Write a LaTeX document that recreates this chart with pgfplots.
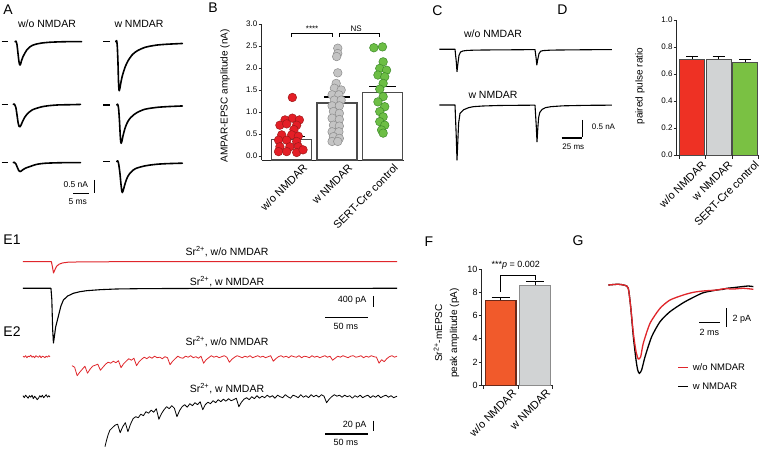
\documentclass[border=0pt]{standalone}
\usepackage{fontspec}
\setmainfont{Liberation Sans}
\usepackage{pgfplots}
\pgfplotsset{compat=1.18}
\definecolor{bred}{HTML}{E41E26}
\definecolor{bredd}{HTML}{9E1A1A}
\definecolor{bgray}{HTML}{C4C4C4}
\definecolor{bgrayd}{HTML}{8C8C8C}
\definecolor{bgreen}{HTML}{6DBE45}
\definecolor{bgreend}{HTML}{3D8B2A}
\definecolor{dred}{HTML}{EE3124}
\definecolor{dgray}{HTML}{D1D3D4}
\definecolor{dgreen}{HTML}{7AC143}
\definecolor{fred}{HTML}{F15A2B}
\definecolor{fredd}{HTML}{6B2A1A}
\definecolor{tred}{HTML}{E0262B}
\newcommand\fLet{\fontsize{14}{16}\selectfont}
\newcommand\fTit{\fontsize{10.5}{12}\selectfont}
\newcommand\fSc{\fontsize{8.5}{10}\selectfont}
\pgfplotsset{
  /pgf/number format/assume math mode=true,
  trace/.style={scale only axis, hide axis, clip=false, anchor=south west},
  barax/.style={scale only axis, clip=false, anchor=south west,
    axis x line*=bottom, axis y line*=left, tick align=outside,
    axis line style={line width=0.7pt, black!85},
    ytick style={line width=0.7pt, black!85}, major tick length=3pt,
    xtick style={draw=none},
    yticklabel style={font=\fontsize{8}{9}\selectfont, inner sep=1pt},
    xticklabel style={font=\fontsize{11}{12}\selectfont, rotate=45, anchor=north east, inner sep=1pt, xshift=8.5pt, yshift=-6.5pt},
  },
  atr/.style={black, line width=1.6pt, smooth, tension=0.35, line join=round, line cap=round},
  sbar/.style={black, line width=1.3pt},
}
\begin{document}
\begin{tikzpicture}
\path[use as bounding box] (0,0) rectangle (760pt,449pt);
\fill[white] (0,0) rectangle (760pt,449pt);

% ---------------- A ----------------
\begin{axis}[trace, at={(0pt,244pt)}, width=185pt, height=175pt,
  xmin=0, xmax=57.8125, ymin=-6.4291, ymax=0.4606]
\addplot[atr, x filter/.expression={x+4.6875}] coordinates {(0,0) (0.3,0.02) (0.6,-0.1) (0.9,-0.42) (1.2,-0.75) (1.4,-0.88) (1.56,-0.917) (1.75,-0.88) (2.0,-0.76) (2.5,-0.59) (3.0,-0.47) (3.66,-0.33) (4.5,-0.22) (5.5,-0.14) (6.8,-0.09) (8.5,-0.05) (10.5,-0.025) (13,-0.01) (16,0) (20.8,0)};
\addplot[atr, x filter/.expression={x+4.156}, y filter/.expression={y-2.47}] coordinates {(0,0) (0.3,0.02) (0.8,-0.12) (1.2,-0.45) (1.5,-0.72) (1.8,-0.86) (2.1,-0.88) (2.4,-0.82) (2.9,-0.67) (3.5,-0.52) (4.2,-0.40) (5.0,-0.30) (6.0,-0.21) (7.3,-0.15) (9,-0.09) (11,-0.05) (14,-0.02) (18,-0.01) (21,0)};
\addplot[atr, x filter/.expression={x+4.156}, y filter/.expression={y-4.76}] coordinates {(0,0) (0.3,0.015) (0.8,-0.05) (1.3,-0.2) (1.7,-0.31) (2.1,-0.354) (2.5,-0.33) (3.0,-0.28) (3.8,-0.22) (4.5,-0.185) (5.2,-0.157) (6.2,-0.11) (7.3,-0.07) (8.5,-0.045) (10,-0.025) (13,-0.01) (17,0) (21,0)};
\addplot[atr, x filter/.expression={x+36.16}] coordinates {(0,0) (0.3,0.04) (0.5,-0.2) (0.7,-0.8) (0.85,-1.5) (1.0,-1.88) (1.1,-1.93) (1.3,-1.84) (1.6,-1.62) (2.0,-1.38) (2.5,-1.16) (3.0,-0.98) (3.5,-0.84) (4.0,-0.72) (5.0,-0.54) (6.0,-0.42) (7.0,-0.34) (8.0,-0.28) (9.2,-0.22) (11,-0.17) (13,-0.13) (16,-0.10) (20.8,-0.07)};
\addplot[atr, x filter/.expression={x+36.47}, y filter/.expression={y-2.49}] coordinates {(0,0) (0.3,0.03) (0.6,-0.15) (0.9,-0.7) (1.1,-1.2) (1.25,-1.45) (1.4,-1.51) (1.6,-1.44) (2.0,-1.20) (2.5,-0.96) (3.0,-0.78) (3.5,-0.65) (4.0,-0.55) (4.7,-0.46) (5.5,-0.37) (6.5,-0.29) (7.5,-0.23) (8.8,-0.17) (10.5,-0.13) (13,-0.09) (16,-0.065) (20.5,-0.04)};
\addplot[atr, x filter/.expression={x+36.47}, y filter/.expression={y-4.72}] coordinates {(0,0) (0.3,0.03) (0.6,-0.08) (1.0,-0.45) (1.3,-0.85) (1.55,-1.12) (1.75,-1.22) (2.0,-1.15) (2.5,-0.92) (3.0,-0.72) (3.5,-0.58) (4.2,-0.45) (5.2,-0.33) (6.2,-0.26) (7.5,-0.21) (8.8,-0.17) (10.5,-0.135) (13,-0.10) (16,-0.08) (20.5,-0.063)};
\addplot[sbar] coordinates {(0.53,0) (2.6,0)};
\addplot[sbar] coordinates {(0.53,-2.47) (2.6,-2.47)};
\addplot[sbar] coordinates {(0.53,-4.76) (2.6,-4.76)};
\addplot[sbar] coordinates {(32.2,0) (34.4,0)};
\addplot[sbar] coordinates {(32.2,-2.49) (34.4,-2.49)};
\addplot[sbar] coordinates {(32.2,-4.72) (34.4,-4.72)};
\addplot[sbar] coordinates {(29.47,-5.445) (29.47,-5.945)};
\addplot[sbar] coordinates {(22.9,-5.965) (27.9,-5.965)};
\node[anchor=east, inner sep=0pt, font=\fSc] at (axis cs:27.6,-5.64) {0.5 nA};
\node[inner sep=0pt, font=\fSc] at (axis cs:24.3,-6.30) {5 ms};
\end{axis}
\node[font=\fLet] at (8pt,439pt) {A};
\node[font=\fTit] at (47pt,425pt) {w/o NMDAR};
\node[font=\fTit] at (139pt,425pt) {w NMDAR};

% ---------------- B ----------------
\begin{axis}[barax, at={(261.5pt,289pt)}, width=142.5pt, height=136pt,
  xmin=-0.665, xmax=2.474, ymin=-0.0909, ymax=3.0,
  ytick={0,0.5,1,1.5,2,2.5,3},
  yticklabel style={/pgf/number format/fixed, /pgf/number format/fixed zerofill, /pgf/number format/precision=1},
  xtick={0,1,2}, xticklabels={w/o NMDAR, w NMDAR, SERT-Cre control}]
\addplot[draw=black!70, line width=1.4pt, fill=white] coordinates {(-0.44,-0.0909) (-0.44,0.38) (0.44,0.38) (0.44,-0.0909)} -- cycle;
\addplot[draw=black!70, line width=1.4pt, fill=white] coordinates {(0.56,-0.0909) (0.56,1.20) (1.44,1.20) (1.44,-0.0909)} -- cycle;
\addplot[draw=black!70, line width=1.4pt, fill=white] coordinates {(1.56,-0.0909) (1.56,1.44) (2.44,1.44) (2.44,-0.0909)} -- cycle;
\addplot[only marks, mark=*, mark size=4.3pt, mark options={fill=bred, draw=bredd, line width=0.5pt}] coordinates {(0.015,1.33) (-0.147,0.82) (0.015,0.86) (0.17,0.82) (-0.26,0.70) (-0.11,0.73) (0.11,0.70) (0.05,0.60) (-0.22,0.48) (0,0.48) (0.147,0.45) (-0.29,0.36) (-0.11,0.36) (0.11,0.33) (-0.26,0.21) (-0.04,0.21) (0.147,0.21) (-0.29,0.10) (-0.11,0.10) (0.11,0.08) (0.25,0.14)};
\addplot[only marks, mark=*, mark size=4.3pt, mark options={fill=bgray, draw=bgrayd, line width=0.5pt}] coordinates {(1.015,2.45) (1.015,2.33) (0.99,2.26) (1.015,1.89) (0.98,1.65) (0.94,1.54) (1.09,1.50) (0.89,1.39) (1.04,1.39) (0.94,1.27) (1.09,1.27) (0.89,1.14) (1.05,1.14) (0.92,1.01) (1.05,0.97) (0.89,0.86) (1.05,0.83) (0.92,0.70) (1.05,0.68) (0.89,0.55) (1.04,0.55) (0.92,0.44) (1.05,0.40) (0.89,0.33) (1.015,0.33)};
\addplot[only marks, mark=*, mark size=4.3pt, mark options={fill=bgreen, draw=bgreend, line width=0.5pt}] coordinates {(1.81,2.46) (2.0,2.48) (2.015,2.14) (1.94,1.99) (2.09,1.95) (1.90,1.84) (2.05,1.80) (2.015,1.65) (1.94,1.52) (2.015,1.35) (1.90,1.23) (2.05,1.12) (1.94,1.01) (2.015,0.89) (1.94,0.78) (2.05,0.70) (1.98,0.59) (2.015,0.52)};
\addplot[black, line width=1.2pt] coordinates {(0,0.38) (0,0.44)};
\addplot[black, line width=1.2pt] coordinates {(-0.29,0.44) (0.29,0.44)};
\addplot[black, line width=1.2pt] coordinates {(1,1.20) (1,1.34)};
\addplot[black, line width=1.2pt] coordinates {(0.71,1.34) (1.29,1.34)};
\addplot[black, line width=1.2pt] coordinates {(2,1.44) (2,1.58)};
\addplot[black, line width=1.2pt] coordinates {(1.71,1.58) (2.29,1.58)};
\addplot[black, line width=0.7pt] coordinates {(0,2.70) (0,2.79) (0.9,2.79) (0.9,2.70)};
\addplot[black, line width=0.7pt] coordinates {(1.05,2.70) (1.05,2.79) (1.94,2.79) (1.94,2.70)};
\node[anchor=base, inner sep=0pt, font=\fontsize{8}{9}\selectfont] at (axis cs:0.45,2.83) {****};
\node[anchor=base, inner sep=0pt, font=\fontsize{8}{9}\selectfont] at (axis cs:1.42,2.83) {NS};
\end{axis}
\node[font=\fLet] at (213pt,441pt) {B};
\node[rotate=90, font=\fontsize{10}{12}\selectfont] at (225pt,353pt) {AMPAR-EPSC amplitude (nA)};

% ---------------- C ----------------
\begin{axis}[trace, at={(435pt,279pt)}, width=180pt, height=130pt,
  xmin=0, xmax=225, ymin=-3.614, ymax=0.278]
\addplot[black, line width=1.1pt, line join=round] coordinates {(5.4,0) (25,0) (26.5,-0.35) (27.5,-0.67) (28.5,-0.45) (30,-0.18) (32,-0.08) (35,-0.05) (40,-0.035) (50,-0.025) (70,-0.02) (100,-0.015) (125,-0.01) (126.3,-0.25) (127.3,-0.47) (128.3,-0.32) (130,-0.13) (132,-0.06) (135,-0.04) (145,-0.025) (170,-0.018) (200,-0.012) (221,-0.01)};
\addplot[black, line width=1.1pt, line join=round, y filter/.expression={y-1.668}] coordinates {(5.4,0) (25,0) (26.5,-0.9) (27.5,-1.65) (28.5,-1.1) (29.5,-0.55) (31.25,-0.25) (36,-0.14) (42,-0.08) (48,-0.05) (60,-0.03) (80,-0.015) (100,-0.01) (125,-0.005) (126.5,-0.6) (127.5,-1.1) (128.5,-0.7) (129.5,-0.38) (131,-0.22) (134,-0.13) (138,-0.08) (145,-0.05) (160,-0.025) (190,-0.01) (221,-0.005)};
\addplot[sbar] coordinates {(184.6,-2.117) (184.6,-2.617)};
\addplot[sbar] coordinates {(158.4,-2.656) (183.4,-2.656)};
\node[anchor=west, inner sep=0pt, font=\fontsize{8}{9}\selectfont] at (axis cs:195.9,-2.32) {0.5 nA};
\node[inner sep=0pt, font=\fontsize{8}{9}\selectfont] at (axis cs:172.9,-2.92) {25 ms};
\end{axis}
\node[font=\fLet] at (437.5pt,438pt) {C};
\node[font=\fTit] at (493pt,415.5pt) {w/o NMDAR};
\node[font=\fTit] at (493pt,354.5pt) {w NMDAR};

% ---------------- D ----------------
\begin{axis}[barax, at={(676.7pt,294pt)}, width=81.3pt, height=135pt,
  xmin=-0.585, xmax=2.483, ymin=0, ymax=1,
  ytick={0,0.2,0.4,0.6,0.8,1},
  yticklabel style={/pgf/number format/fixed, /pgf/number format/fixed zerofill, /pgf/number format/precision=1},
  xticklabel style={xshift=-2.5pt},
  xtick={0,1,2}, xticklabels={w/o NMDAR, w NMDAR, SERT-Cre control}]
\addplot[ybar, bar width=25pt, bar shift=0pt, fill=dred, draw=black!70, line width=0.6pt] coordinates {(0,0.71)};
\addplot[ybar, bar width=25pt, bar shift=0pt, fill=dgray, draw=black!70, line width=0.6pt] coordinates {(1,0.71)};
\addplot[ybar, bar width=25pt, bar shift=0pt, fill=dgreen, draw=black!70, line width=0.6pt] coordinates {(2,0.69)};
\addplot[black, line width=0.8pt] coordinates {(0,0.71) (0,0.73)};
\addplot[black, line width=0.8pt] coordinates {(-0.23,0.73) (0.23,0.73)};
\addplot[black, line width=0.8pt] coordinates {(1,0.71) (1,0.73)};
\addplot[black, line width=0.8pt] coordinates {(0.77,0.73) (1.23,0.73)};
\addplot[black, line width=0.8pt] coordinates {(2,0.69) (2,0.71)};
\addplot[black, line width=0.8pt] coordinates {(1.77,0.71) (2.23,0.71)};
\addplot[black!85, line width=0.7pt] coordinates {(-0.5,0) (-0.5,-0.03)};
\addplot[black!85, line width=0.7pt] coordinates {(0.5,0) (0.5,-0.03)};
\addplot[black!85, line width=0.7pt] coordinates {(1.5,0) (1.5,-0.03)};
\addplot[black!85, line width=0.7pt] coordinates {(2.5,0) (2.5,-0.03)};
\end{axis}
\node[font=\fLet] at (562.5pt,439pt) {D};
\node[rotate=90, font=\fontsize{10}{12}\selectfont] at (640pt,363pt) {paired pulse ratio};

% ---------------- E1 ----------------
\begin{axis}[trace, at={(20pt,104pt)}, width=380pt, height=90pt,
  xmin=-3.488, xmax=438.37, ymin=-3029, ymax=243.6]
\addplot[tred, line width=1pt, line join=round] coordinates {(0,0) (33,0) (34,-150) (35.5,-411) (37,-300) (39,-170) (42,-90) (46,-45) (52,-20) (65,-8) (90,-3) (120,0) (434.9,0)};
\addplot[black, line width=1.1pt, line join=round, y filter/.expression={y-967}] coordinates {(0,0) (32.5,0) (33.5,-400) (34.5,-1500) (35.4,-1989) (36.5,-1750) (38,-1400) (41,-1033) (44,-650) (47,-425) (52,-280) (58.5,-182) (66,-125) (74,-87) (90,-50) (109,-25) (140,-12) (200,-5) (300,-2) (434.9,0)};
\addplot[sbar] coordinates {(407.3,-1247) (407.3,-1647)};
\addplot[sbar] coordinates {(351.2,-2022) (401.2,-2022)};
\node[anchor=east, inner sep=0pt, font=\fontsize{9}{10}\selectfont] at (axis cs:399.6,-1393) {400 pA};
\node[inner sep=0pt, font=\fontsize{9}{10}\selectfont] at (axis cs:375.4,-2338) {50 ms};
\end{axis}
\node[font=\fLet] at (12pt,209pt) {E1};
\node[font=\fTit] at (227pt,197pt) {Sr\textsuperscript{2+}, w/o NMDAR};
\node[font=\fTit] at (227pt,167.3pt) {Sr\textsuperscript{2+}, w NMDAR};

% ---------------- E2 ----------------
\begin{axis}[trace, at={(20pt,0pt)}, width=380pt, height=104pt,
  xmin=-3.488, xmax=438.37, ymin=-184.6, ymax=23.4]
\addplot[tred, line width=0.8pt, line join=round] coordinates {(0,1) (1.5,-1) (3,2) (4.5,-2) (6,1) (7.5,0) (9,3) (10.5,-1) (12,1) (13.5,-2) (15,2) (16.5,0) (18,-1) (19.5,2) (21,-2) (22.5,1) (24,0) (25.5,-2) (27,1) (28.5,-1) (30,2) (31.4,0)};
\addplot[tred, line width=0.8pt, line join=round] coordinates {(57,-18) (60,-21) (63,-38) (66,-31) (69,-25) (72,-19) (75,-33) (78,-25) (81,-19) (84,-17) (87,-15) (90,-27) (93,-21) (96,-15) (99,-11) (102,-13) (105,-9) (108,-12) (111,-8) (114,-22) (117,-14) (120,-9) (123,-4) (126,-7) (129,-3) (132,-18) (135,-10) (138,-5) (141,-1) (144,-4) (147,0) (150,-3) (153,1) (156,-2) (159,-1) (162,-4) (165,0) (168,-2) (171,-16) (174,-9) (177,-4) (180,1) (183,-2) (186,-3) (189,1) (192,-1) (195,2) (198,-2) (201,0) (204,-3) (207,1) (210,-13) (213,-6) (216,-2) (219,2) (222,-1) (225,1) (228,-2) (231,0) (234,2) (237,-1) (240,-11) (243,-5) (246,-1) (249,2) (252,0) (255,-2) (258,1) (261,-1) (264,2) (267,-2) (270,0) (273,2) (276,-1) (279,1) (282,-2) (285,0) (288,2) (291,-9) (294,-4) (297,0) (300,2) (303,-1) (306,1) (309,-2) (312,2) (315,0) (318,-1) (321,2) (324,-2) (327,1) (330,0) (333,-2) (336,2) (339,-1) (342,1) (345,-2) (348,0) (351,2) (354,-1) (357,1) (360,-7) (363,-3) (366,1) (369,-1) (372,2) (375,0) (378,-2) (381,1) (384,2) (387,-1) (390,0) (393,2) (396,-2) (399,1) (402,-1) (405,2) (408,0) (411,-1) (414,-13) (417,-6) (420,-10) (423,-4) (426,0) (429,2) (432,-1) (434.9,1)};
\addplot[black, line width=0.8pt, line join=round, y filter/.expression={y-80}] coordinates {(0,2) (1.5,-2) (3,3) (4.5,0) (6,-3) (7.5,2) (9,-1) (10.5,3) (12,-4) (13.5,1) (15,-2) (16.5,-6) (18,-3) (19.5,2) (21,-1) (22.5,3) (24,-2) (25.5,1) (27,4) (28.5,-1) (30,2) (31.4,-1)};
\addplot[black, line width=0.8pt, line join=round, y filter/.expression={y-80}] coordinates {(95.3,-100) (97,-88) (99,-76) (101,-67) (104,-62) (107,-57) (110,-55) (113,-72) (116,-60) (119,-52) (122,-70) (125,-55) (128,-44) (131,-40) (134,-42) (137,-35) (140,-38) (143,-30) (146,-33) (149,-27) (152,-31) (155,-24) (158,-45) (161,-34) (164,-26) (167,-20) (170,-24) (173,-18) (176,-23) (179,-40) (182,-28) (185,-20) (188,-16) (191,-21) (194,-14) (197,-18) (200,-12) (203,-16) (206,-10) (209,-26) (212,-16) (215,-11) (218,-14) (221,-8) (224,-12) (227,-6) (230,-10) (233,-5) (236,-9) (239,-4) (242,-8) (245,-6) (248,-3) (251,-20) (254,-11) (257,-5) (260,-2) (263,-6) (266,0) (269,-4) (272,2) (275,-3) (278,1) (281,-2) (284,3) (287,-1) (290,2) (293,-3) (296,3) (299,0) (302,-2) (305,4) (308,0) (311,-3) (314,3) (317,1) (320,-2) (323,4) (326,-1) (329,2) (332,-2) (335,4) (338,0) (341,3) (344,-1) (347,4) (350,1) (353,-12) (356,-5) (359,0) (362,4) (365,1) (368,3) (371,-1) (374,3) (377,0) (380,2) (383,-3) (386,2) (389,-1) (392,3) (395,-2) (398,1) (401,3) (404,-2) (407,2) (410,-1) (413,3) (416,-2) (419,1) (422,3) (425,-1) (428,2) (431,-2) (434.9,1)};
\addplot[sbar] coordinates {(407.3,-128) (407.3,-148)};
\addplot[sbar] coordinates {(351.2,-154.6) (401.2,-154.6)};
\node[anchor=east, inner sep=0pt, font=\fontsize{9}{10}\selectfont] at (axis cs:399.6,-136.6) {20 pA};
\node[inner sep=0pt, font=\fontsize{9}{10}\selectfont] at (axis cs:375.4,-172) {50 ms};
\end{axis}
\node[font=\fLet] at (12pt,117.3pt) {E2};
\node[font=\fTit] at (227pt,107.3pt) {Sr\textsuperscript{2+}, w/o NMDAR};
\node[font=\fTit] at (227pt,60.7pt) {Sr\textsuperscript{2+}, w NMDAR};

% ---------------- F ----------------
\begin{axis}[barax, at={(481.7pt,63.7pt)}, width=70pt, height=116.3pt,
  xmin=-0.558, xmax=1.489, ymin=0, ymax=10,
  ytick={0,2,4,6,8,10}, yticklabel style={font=\fontsize{9}{10}\selectfont},
  xtick={0,1}, xticklabels={w/o NMDAR, w NMDAR}]
\addplot[ybar, bar width=30.5pt, bar shift=0pt, fill=fred, draw=fredd, line width=1.2pt] coordinates {(0,7.3)};
\addplot[ybar, bar width=30.5pt, bar shift=0pt, fill=dgray, draw=black!45, line width=1.2pt] coordinates {(1,8.6)};
\addplot[black, line width=0.9pt] coordinates {(0,7.3) (0,7.55)};
\addplot[black, line width=0.9pt] coordinates {(-0.27,7.55) (0.27,7.55)};
\addplot[black, line width=0.9pt] coordinates {(1,8.6) (1,8.9)};
\addplot[black, line width=0.9pt] coordinates {(0.73,8.9) (1.27,8.9)};
\addplot[black, line width=0.7pt] coordinates {(0,8.05) (0,9.48) (1.0,9.48) (1.0,9.05)};
\addplot[black!85, line width=0.7pt] coordinates {(-0.5,0) (-0.5,-0.35)};
\addplot[black!85, line width=0.7pt] coordinates {(0.5,0) (0.5,-0.35)};
\addplot[black!85, line width=0.7pt] coordinates {(1.5,0) (1.5,-0.35)};
\node[inner sep=0pt, font=\fontsize{9}{10}\selectfont] at (axis cs:0.44,10.34) {***\textit{p} = 0.002};
\end{axis}
\node[font=\fLet] at (429pt,207.3pt) {F};
\node[rotate=90, align=center, font=\fontsize{10}{15}\selectfont] at (446.5pt,116pt) {Sr\textsuperscript{2+}-mEPSC\\peak amplitude (pA)};

% ---------------- G ----------------
\begin{axis}[trace, at={(600pt,49pt)}, width=160pt, height=120pt,
  xmin=-0.802, xmax=14.657, ymin=-12.541, ymax=0.545]
\addplot[black, line width=1.3pt, smooth, tension=0.4] coordinates {(0,0) (0.97,0.08) (1.61,-0.04) (1.93,-0.36) (2.16,-2.36) (2.42,-5.64) (2.68,-8.18) (2.84,-9.27) (3.0,-9.63) (3.22,-9.27) (3.55,-7.82) (4.19,-5.64) (5.0,-4.0) (5.96,-2.91) (7.25,-1.93) (8.21,-1.35) (9.18,-0.84) (10.47,-0.55) (11.11,-0.47) (11.44,-0.36) (12.08,-0.29) (12.89,-0.18) (13.53,-0.11) (14.01,-0.18)};
\addplot[tred, line width=1.3pt, smooth, tension=0.4] coordinates {(0,0) (0.97,0.08) (1.61,-0.04) (1.93,-0.36) (2.16,-2.36) (2.42,-5.27) (2.68,-7.27) (2.90,-8.07) (3.13,-7.82) (3.38,-6.36) (4.03,-4.18) (5.0,-2.54) (5.96,-1.64) (7.25,-1.09) (8.21,-0.80) (9.18,-0.65) (10.47,-0.55) (11.2,-0.40) (12.08,-0.44) (13.04,-0.36) (14.01,-0.47)};
\addplot[sbar] coordinates {(11.44,-2.54) (11.44,-4.54)};
\addplot[sbar] coordinates {(8.79,-4.07) (10.79,-4.07)};
\node[anchor=west, inner sep=0pt, font=\fontsize{9}{10}\selectfont] at (axis cs:11.98,-3.74) {2 pA};
\node[inner sep=0pt, font=\fontsize{9}{10}\selectfont] at (axis cs:9.76,-5.2) {2 ms};
\addplot[tred, line width=1.3pt] coordinates {(6.76,-8.97) (7.73,-8.97)};
\addplot[black, line width=1.3pt] coordinates {(6.76,-11.09) (7.73,-11.09)};
\node[anchor=west, inner sep=0pt, font=\fontsize{9.5}{11}\selectfont] at (axis cs:8.15,-8.97) {w/o NMDAR};
\node[anchor=west, inner sep=0pt, font=\fontsize{9.5}{11}\selectfont] at (axis cs:8.15,-11.09) {w NMDAR};
\end{axis}
\node[font=\fLet] at (578pt,208pt) {G};
\end{tikzpicture}
\end{document}
